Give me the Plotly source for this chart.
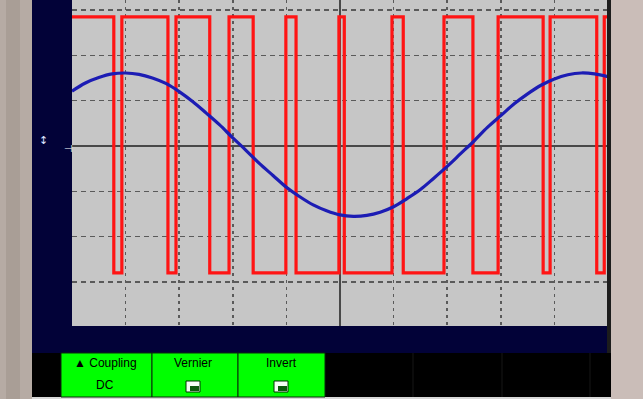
import plotly.graph_objects as go

# ---- data (screen divisions, centre of screen = 0) ----
red_x = [-5, -4.22, -4.07, -3.21, -3.06, -2.43, -2.07, -1.62, -1.01, -0.82,
         -0.02, 0.08, 0.97, 1.18, 1.94, 2.48, 2.95, 3.79, 3.92, 4.79, 4.93, 5]
red_y = [2.85, -2.80, 2.85, -2.80, 2.85, -2.80, 2.85, -2.80, 2.85, -2.80,
         2.85, -2.80, 2.85, -2.80, 2.85, -2.80, 2.85, -2.80, 2.85, -2.80, 2.85, 2.85]

blue_x = [-5.0, -4.75, -4.5, -4.25, -4.0, -3.75, -3.5, -3.25, -3.0, -2.75,
          -2.5, -2.25, -2.0, -1.75, -1.5, -1.25, -1.0, -0.75, -0.5, -0.25,
          0.0, 0.25, 0.5, 0.75, 1.0, 1.25, 1.5, 1.75, 2.0, 2.25,
          2.5, 2.75, 3.0, 3.25, 3.5, 3.75, 4.0, 4.25, 4.5, 4.75, 5.0]
blue_y = [1.21, 1.39, 1.51, 1.59, 1.61, 1.58, 1.50, 1.38, 1.20, 0.98,
          0.73, 0.47, 0.18, -0.10, -0.39, -0.65, -0.91, -1.12, -1.30, -1.43,
          -1.52, -1.55, -1.53, -1.46, -1.34, -1.16, -0.96, -0.71, -0.45, -0.17,
          0.11, 0.41, 0.67, 0.93, 1.15, 1.34, 1.48, 1.57, 1.61, 1.59, 1.53]

button_top = ["\u25B2 Coupling", "Vernier", "Invert"]
button_bottom = ["DC", "", ""]

W, H = 643, 399
def px(x):
    return x / W
def py(y):
    return 1 - y / H

fig = go.Figure()
fig.add_trace(go.Scatter(x=red_x, y=red_y, mode="lines", line_shape="hv",
                         line=dict(color="#ff1414", width=3.2), hoverinfo="skip"))
fig.add_trace(go.Scatter(x=blue_x, y=blue_y, mode="lines", line_shape="spline",
                         line=dict(color="#1c1cb4", width=3.2), hoverinfo="skip"))

shapes = []
def rect(x0, y0, x1, y1, fill, line=None, lw=0):
    shapes.append(dict(type="rect", xref="paper", yref="paper",
                       x0=px(x0), x1=px(x1), y0=py(y1), y1=py(y0),
                       fillcolor=fill, line=dict(color=line or fill, width=lw),
                       layer="above"))
def vline(x, y0, y1, color, w=1):
    shapes.append(dict(type="line", xref="paper", yref="paper",
                       x0=px(x), x1=px(x), y0=py(y1), y1=py(y0),
                       line=dict(color=color, width=w), layer="above"))

# frame decorations
rect(0, 0, 32, 399, "#b6aba4")
rect(6, 0, 20, 399, "#a99e96")
rect(607, 0, 611, 353, "#1c1c1c")
rect(611, 0, 643, 399, "#cabdb8")
rect(32, 353, 611, 399, "#000000")
rect(32, 397, 611, 399, "#d8d8d8")
# green buttons
btn_edges = [61, 152, 238, 325]
for i in range(3):
    rect(btn_edges[i], 353, btn_edges[i + 1], 397, "#00ff00", "#0a2a0a", 1)
for xx in [413, 502, 590]:
    vline(xx, 353, 397, "#161616", 1)
# small check icons
for cx in [193, 281]:
    rect(cx - 7, 381, cx + 7, 392, "#f4fff4", "#003300", 1)
    rect(cx - 3, 386, cx + 6, 391, "#0d5a0d")

fig.update_layout(shapes=shapes)

ann = []
centers = [105, 193, 281]
for i in range(3):
    ann.append(dict(xref="paper", yref="paper", x=px(centers[i]), y=py(363),
                    text=button_top[i], showarrow=False,
                    font=dict(family="Liberation Sans, Arial", size=12, color="#000000"),
                    xanchor="center", yanchor="middle"))
    if button_bottom[i]:
        ann.append(dict(xref="paper", yref="paper", x=px(centers[i]), y=py(385),
                        text=button_bottom[i], showarrow=False,
                        font=dict(family="Liberation Sans, Arial", size=12, color="#000000"),
                        xanchor="center", yanchor="middle"))
# channel markers on the navy panel
ann.append(dict(xref="paper", yref="paper", x=px(37), y=py(141), text="\u2195",
                showarrow=False, font=dict(family="DejaVu Sans", size=11, color="#dde4ff")))
ann.append(dict(xref="paper", yref="paper", x=px(62), y=py(148), text="\u22A3",
                showarrow=False, font=dict(family="DejaVu Sans", size=10, color="#ffffff")))

fig.update_layout(
    width=W, height=H,
    margin=dict(l=0, r=0, t=0, b=0),
    paper_bgcolor="#020238",
    plot_bgcolor="#c6c6c6",
    showlegend=False,
    annotations=ann,
    xaxis=dict(domain=[px(72), px(608)], range=[-5, 5], dtick=1, tick0=0,
               showgrid=True, gridcolor="#5a5a5a", gridwidth=1.5, griddash="3px,4px",
               zeroline=True, zerolinecolor="#484848", zerolinewidth=1.5,
               showticklabels=False, ticks="", showline=False, fixedrange=True),
    yaxis=dict(domain=[py(326), 1], range=[-3.97, 3.22], dtick=1, tick0=0,
               showgrid=True, gridcolor="#5a5a5a", gridwidth=1.5, griddash="5px,4px",
               zeroline=True, zerolinecolor="#484848", zerolinewidth=1.5,
               showticklabels=False, ticks="", showline=False, fixedrange=True),
)

fig.write_html("out.html", config={"displayModeBar": False, "staticPlot": True},
               post_script="document.body.style.margin='0px';document.body.style.overflow='hidden';")
